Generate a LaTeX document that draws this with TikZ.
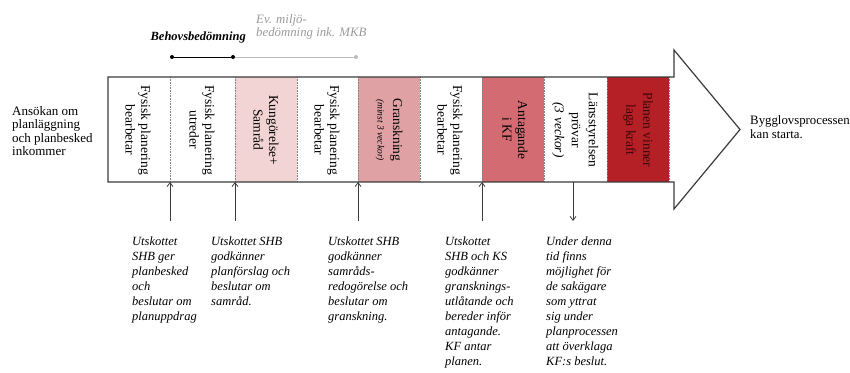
\documentclass[tikz,border=0pt]{standalone}
\usepackage{fontspec}
\setmainfont{Liberation Serif}
\usetikzlibrary{arrows.meta}
\definecolor{pinkA}{HTML}{F3D4D4}
\definecolor{pinkB}{HTML}{DFA1A4}
\definecolor{pinkC}{HTML}{D26C72}
\definecolor{redD}{HTML}{B51F26}
\definecolor{frame}{HTML}{3A3A3A}
\definecolor{greyline}{HTML}{BBBBBB}
\definecolor{greytext}{HTML}{9A9A9A}
\definecolor{darkred}{HTML}{3A0808}
\begin{document}
\begin{tikzpicture}[x=1pt,y=-1pt,
  coltext/.style={rotate=-90, align=center, font=\fontsize{13.5}{15.5}\selectfont, inner sep=0pt},
  note/.style={anchor=north west, align=left, font=\fontsize{12.5}{15}\selectfont\itshape, inner sep=0pt},
  sidetext/.style={anchor=north west, align=left, font=\fontsize{13}{13.5}\selectfont, inner sep=0pt},
  divider/.style={draw=gray, densely dotted, line width=0.6pt},
  ptr/.style={-{Straight Barb[length=4pt,width=6pt]}, line width=0.8pt, draw=frame},
  blackdot/.style={circle, fill=black, inner sep=0pt, minimum size=4pt},
  greydot/.style={circle, fill=greyline, inner sep=0pt, minimum size=4pt}]
\useasboundingbox (0,0) rectangle (850,372);
% column fills
\fill[pinkA] (235,77) rectangle (297,182);
\fill[pinkB] (358,77) rectangle (420,182);
\fill[pinkC] (482,77) rectangle (544,182);
\fill[redD] (607,77) rectangle (669,182);
\foreach \x in {170,235,297,358,420,482,544,607,669}
  \draw[divider] (\x,77) -- (\x,182);
% arrow outline
\draw[frame, line width=1.2pt, line join=miter]
  (108,77) -- (674,77) -- (674,50) -- (740,129.5) -- (674,209) -- (674,182) -- (108,182) -- cycle;
% column texts
\node[coltext] (c1) at (138,130) {Fysisk planering\\bearbetar};
\node[coltext] (c2) at (202,130) {Fysisk planering\\utreder};
\node[coltext] (c3) at (266,130) {Kungörelse+\\Samråd};
\node[coltext] (c4) at (327,130) {Fysisk planering\\bearbetar};
\node[coltext] (c5) at (389,130) {Granskning\\{\fontsize{9.5}{10}\selectfont\itshape (minst 3 veckor)}};
\node[coltext] (c6) at (450,130) {Fysisk planering\\bearbetar};
\node[coltext] (c7) at (515,130) {Antagande\\i KF};
\node[coltext, font=\fontsize{13.5}{17}\selectfont] (c8) at (575,130) {Länsstyrelsen\\prövar\\{\itshape (3 veckor)}};
\node[coltext, text=darkred, font=\fontsize{13.5}{17}\selectfont] (c9) at (638,130) {Planen vinner\\laga kraft};
% side texts
\node[sidetext] (start) at (12,106) {Ansökan om\\planläggning\\och planbesked\\inkommer};
\node[sidetext, font=\fontsize{12.8}{14.5}\selectfont] (end) at (750,115) {Bygglovsprocessen\\kan starta.};
% top timeline
\node[anchor=base east, inner sep=0pt, font=\fontsize{12.5}{13}\selectfont\bfseries\itshape] (behov) at (246,40) {Behovsbedömning};
\node[anchor=north west, align=left, inner sep=0pt, text=greytext, font=\fontsize{12.8}{13.5}\selectfont\itshape] (miljo) at (256,14) {Ev. miljö-\\bedömning ink. MKB};
\node[blackdot] (d1) at (172,57) {};
\node[blackdot] (d2) at (233,57) {};
\node[greydot] (d3) at (356,57) {};
\draw[line width=1pt] (d1) -- (d2);
\draw[greyline, line width=1pt] (d2) -- (d3);
% pointer coordinates
\coordinate (p1s) at (170,221); \coordinate (p1e) at (170,182);
\coordinate (p2s) at (235,221); \coordinate (p2e) at (235,182);
\coordinate (p3s) at (358,221); \coordinate (p3e) at (358,182);
\coordinate (p4s) at (482,221); \coordinate (p4e) at (482,182);
\coordinate (p5s) at (573,182); \coordinate (p5e) at (573,221);
\draw[ptr] (p1s) -- (p1e);
\draw[ptr] (p2s) -- (p2e);
\draw[ptr] (p3s) -- (p3e);
\draw[ptr] (p4s) -- (p4e);
\draw[ptr] (p5s) -- (p5e);
% notes
\node[note] (n1) at (132,237) {Utskottet\\SHB ger\\planbesked\\och\\beslutar om\\planuppdrag};
\node[note] (n2) at (211,237) {Utskottet SHB\\godkänner\\planförslag och\\beslutar om\\samråd.};
\node[note] (n3) at (328,237) {Utskottet SHB\\godkänner\\samråds-\\redogörelse och\\beslutar om\\granskning.};
\node[note] (n4) at (445,237) {Utskottet\\SHB och KS\\godkänner\\gransknings-\\utlåtande och\\bereder inför\\antagande.\\KF antar\\planen.};
\node[note] (n5) at (546,237) {Under denna\\tid finns\\möjlighet för\\de sakägare\\som yttrat\\sig under\\planprocessen\\att överklaga\\KF:s beslut.};
\end{tikzpicture}
\end{document}
